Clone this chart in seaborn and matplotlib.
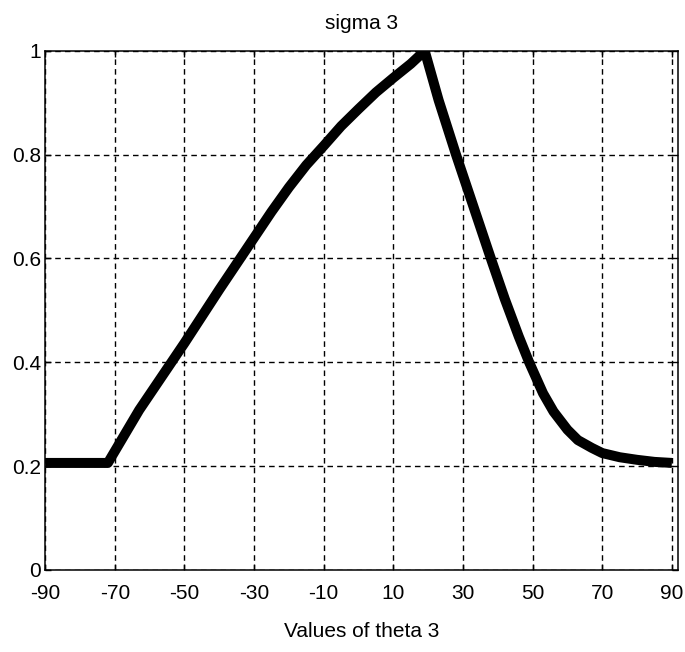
import matplotlib
matplotlib.use("Agg")
import pandas as pd
import matplotlib.pyplot as plt
import seaborn as sns

# -----------------------------
# Dati
# -----------------------------
theta = [-90, -72, -63, -50, -40, -30, -25, -20, -15, -10, -5, 0, 5, 10, 15, 19,
         23, 28, 30, 34, 38, 42, 46, 49, 53, 56, 60, 63, 67, 70, 75, 80, 85, 90]
sigma = [0.206, 0.206, 0.308, 0.437, 0.54, 0.64, 0.69, 0.737, 0.78, 0.817, 0.855, 0.888,
         0.92, 0.948, 0.975, 1.0,
         0.905, 0.80, 0.76, 0.68, 0.60, 0.522, 0.45, 0.40, 0.34, 0.305, 0.27, 0.25,
         0.235, 0.225, 0.217, 0.212, 0.208, 0.206]
x_ticks = [-90, -70, -50, -30, -10, 10, 30, 50, 70, 90]
y_ticks = [0, 0.2, 0.4, 0.6, 0.8, 1]
y_labels = ["0", "0.2", "0.4", "0.6", "0.8", "1"]

df = pd.DataFrame({"theta": theta, "sigma": sigma})

sns.set_style("white")
plt.rcParams['font.family'] = ['Liberation Sans', 'DejaVu Sans']
plt.rcParams['text.color'] = 'black'
plt.rcParams['axes.labelcolor'] = 'black'

fig = plt.figure(figsize=(6.85, 6.52), dpi=100)
ax = fig.add_axes([0.066, 0.126, 0.924, 0.796])

sns.lineplot(data=df, x="theta", y="sigma", color="black", linewidth=7.2, ax=ax,
             solid_joinstyle="round", solid_capstyle="butt", zorder=3)

ax.set_xlim(-90, 91.8)
ax.set_ylim(0, 1)
ax.set_xticks(x_ticks)
ax.set_xticklabels([str(t) for t in x_ticks])
ax.set_yticks(y_ticks)
ax.set_yticklabels(y_labels)

ax.grid(True, color="black", linestyle=(0, (4, 3)), linewidth=1.0)
for s in ax.spines.values():
    s.set_color("black")
    s.set_linewidth(1.1)

ax.tick_params(direction="in", length=4, width=1, colors="black", labelsize=15,
               top=True, right=True, bottom=True, left=True)
ax.tick_params(axis="x", pad=10)
ax.tick_params(axis="y", pad=3)
ax.set_title("sigma 3", fontsize=15, pad=16, color="black")
ax.set_xlabel("Values of theta 3", fontsize=15, labelpad=14)
ax.set_ylabel("")

fig.savefig("out.png", dpi=100)
plt.close()
